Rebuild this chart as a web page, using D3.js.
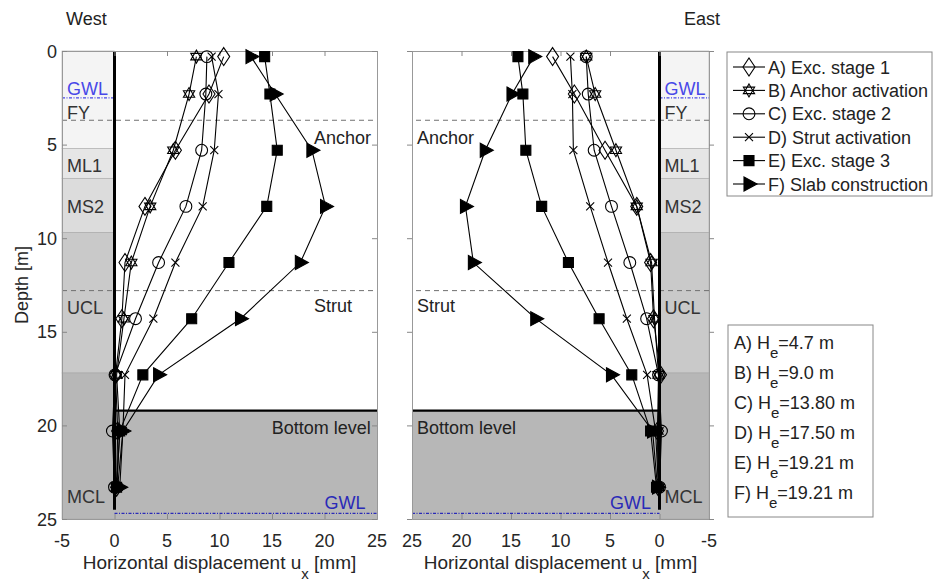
<!DOCTYPE html>
<html>
<head>
<meta charset="utf-8">
<script src="https://cdn.jsdelivr.net/npm/d3@7"></script>
<style>
  body { margin: 0; background: #fff; }
  text { font-family: "Liberation Sans", Arial, sans-serif; }
</style>
</head>
<body>
<div id="graph"></div>
<script>
var width = 937
var height = 586
var fs = 18

// depths of the output points [m]
var depths = [0.3, 2.3, 5.3, 8.3, 11.3, 14.3, 17.3, 20.3, 23.3];

var stageNames = ["A) Exc. stage 1", "B) Anchor activation", "C) Exc. stage 2",
	"D) Strut activation", "E) Exc. stage 3", "F) Slab construction"];
var stageMarkers = ["diamond", "star", "circle", "cross", "square", "triangle"];
var stageDepths = ["4.7", "9.0", "13.80", "17.50", "19.21", "19.21"];

// horizontal displacement [mm], west wall
var westA = [10.4, 9.0, 5.8, 2.9, 1.0, 0.7, 0.1, 0.3, 0.2];
var westB = [7.8, 7.1, 5.6, 3.4, 1.6, 0.9, 0.2, 0.5, 0.2];
var westC = [8.8, 8.7, 8.3, 6.8, 4.2, 2.0, 0.05, -0.2, 0.0];
var westD = [9.25, 9.9, 9.5, 8.4, 5.8, 3.7, 1.0, 0.8, 0.3];
var westE = [14.3, 14.8, 15.5, 14.5, 10.9, 7.35, 2.7, 0.5, 0.2];
var westF = [13.0, 15.3, 18.8, 20.1, 17.7, 12.0, 4.2, 0.8, 0.5];

// horizontal displacement [mm], east wall
var eastA = [10.8, 8.6, 5.5, 2.3, 0.9, 0.6, -0.1, 0.2, 0.1];
var eastB = [7.4, 6.5, 4.4, 2.3, 0.8, 0.5, 0.1, 0.2, 0.1];
var eastC = [7.4, 7.2, 6.6, 4.85, 3.0, 1.3, 0.1, -0.2, 0.0];
var eastD = [9.0, 8.8, 8.7, 7.0, 5.2, 3.3, 1.25, 0.4, 0.1];
var eastE = [14.3, 13.8, 13.5, 11.9, 9.2, 6.1, 2.8, 0.9, 0.3];
var eastF = [12.7, 14.9, 17.6, 19.6, 18.8, 12.5, 4.85, 0.7, 0.2];

// soil layers
var layerNames = ["FY", "ML1", "MS2", "UCL", "MCL"];
var layerTops = [0, 5.2, 6.8, 9.7, 17.2];
var layerBottoms = [5.2, 6.8, 9.7, 17.2, 25];
var layerColors = ["#f4f4f4", "#e6e6e6", "#dcdcdc", "#c9c9c9", "#b7b7b7"];
var layerLabelDepths = [3.3, 6.1, 8.3, 13.7, 23.8];

var anchorDepth = 3.7;
var strutDepth = 12.8;
var bottomDepth = 19.21;
var gwlTop = 2.5;
var gwlBottom = 24.7;
var wallToe = 24.5;

var xTicks = [-5, 0, 5, 10, 15, 20, 25];
var yTicks = [0, 5, 10, 15, 20, 25];

var svg = d3.select("#graph")
	.append("svg")
	.attr("width", width)
	.attr("height", height);

var y = d3.scaleLinear().domain([0, 25]).range([51, 519]);

function markerPath(type) {
	switch (type) {
		case "diamond": return "M0,-9L6,0L0,9L-6,0Z";
		case "circle": return d3.symbol(d3.symbolCircle, 110)();
		case "square": return "M-5,-5H5V5H-5Z";
		case "triangle": return "M-5,-7L8,0L-5,7Z";
		case "cross": return "M-4,-4L4,4M-4,4L4,-4";
		case "star":
			var r = 6.5, pts1 = [], pts2 = [];
			for (var i = 0; i < 3; i++) {
				var a1 = -Math.PI / 2 + i * 2 * Math.PI / 3;
				var a2 = Math.PI / 2 + i * 2 * Math.PI / 3;
				pts1.push([r * Math.cos(a1), r * Math.sin(a1)]);
				pts2.push([r * Math.cos(a2), r * Math.sin(a2)]);
			}
			return "M" + pts1.join("L") + "Z" + "M" + pts2.join("L") + "Z";
	}
}

function drawMarker(g, type, cx, cy) {
	var filled = (type == "square" || type == "triangle");
	g.append("path")
		.attr("transform", "translate(" + cx + "," + cy + ")")
		.attr("d", markerPath(type))
		.attr("fill", filled ? "#000" : "none")
		.attr("stroke", "#000")
		.attr("stroke-width", 1.1);
}

function drawPanel(x, series, side) {
	var g = svg.append("g");
	var x0 = x(-5), x1 = x(25), w0 = x(0);
	var stripL = Math.min(x0, w0), stripR = Math.max(x0, w0);
	var excL = Math.min(w0, x1), excR = Math.max(w0, x1);

	// soil strip
	layerNames.forEach(function (name, i) {
		g.append("rect")
			.attr("x", stripL).attr("width", stripR - stripL)
			.attr("y", y(layerTops[i])).attr("height", y(layerBottoms[i]) - y(layerTops[i]))
			.attr("fill", layerColors[i])
			.attr("stroke", "#a8a8a8").attr("stroke-width", 0.6);
		g.append("text")
			.attr("x", stripL + 5)
			.attr("y", y(layerLabelDepths[i]) + 6.5)
			.attr("font-size", fs)
			.attr("fill", "#333")
			.text(name);
	});

	// excavated soil below bottom level
	g.append("rect")
		.attr("x", excL).attr("width", excR - excL)
		.attr("y", y(bottomDepth)).attr("height", y(25) - y(bottomDepth))
		.attr("fill", layerColors[4]);

	// groundwater levels
	g.append("line")
		.attr("x1", stripL).attr("x2", stripR)
		.attr("y1", y(gwlTop)).attr("y2", y(gwlTop))
		.attr("stroke", "#4848e8").attr("stroke-width", 1.2)
		.attr("stroke-dasharray", "3,1.5,1,1.5");
	g.append("text")
		.attr("x", stripL + 5).attr("y", y(gwlTop) - 3)
		.attr("font-size", fs).attr("fill", "#4848e8")
		.text("GWL");
	g.append("line")
		.attr("x1", excL).attr("x2", excR)
		.attr("y1", y(gwlBottom)).attr("y2", y(gwlBottom))
		.attr("stroke", "#2a2ab8").attr("stroke-width", 1.2)
		.attr("stroke-dasharray", "3,1.5,1,1.5");
	g.append("text")
		.attr("x", side == "left" ? x(20) : x(5.0))
		.attr("y", y(gwlBottom) - 4)
		.attr("font-size", fs).attr("fill", "#2a2ab8")
		.text("GWL");

	// anchor and strut levels
	[anchorDepth, strutDepth].forEach(function (d) {
		g.append("line")
			.attr("x1", x0).attr("x2", x1)
			.attr("y1", y(d)).attr("y2", y(d))
			.attr("stroke", "#707070").attr("stroke-width", 1)
			.attr("stroke-dasharray", "5,4");
	});

	// bottom level
	g.append("line")
		.attr("x1", w0).attr("x2", x1)
		.attr("y1", y(bottomDepth)).attr("y2", y(bottomDepth))
		.attr("stroke", "#000").attr("stroke-width", 2.2);

	var tx = side == "left" ? x(19) : x(24.5);
	g.append("text").attr("x", tx).attr("y", y(4.6) + 6.5)
		.attr("font-size", fs).attr("fill", "#222").text("Anchor");
	g.append("text").attr("x", tx).attr("y", y(13.6) + 6.5)
		.attr("font-size", fs).attr("fill", "#222").text("Strut");
	g.append("text")
		.attr("x", side == "left" ? x(24.4) : x(24.5))
		.attr("text-anchor", side == "left" ? "end" : "start")
		.attr("y", y(20.1) + 6.5)
		.attr("font-size", fs).attr("fill", "#222").text("Bottom level");

	// wall
	g.append("line")
		.attr("x1", w0).attr("x2", w0)
		.attr("y1", y(0)).attr("y2", y(wallToe))
		.attr("stroke", "#000").attr("stroke-width", 3);

	// box and inward ticks
	var xAxB = d3.axisTop(x).tickValues(xTicks).tickSize(5).tickFormat("");
	var xAxT = d3.axisBottom(x).tickValues(xTicks).tickSize(5).tickFormat("");
	var yAxL = d3.axisRight(y).tickValues(yTicks).tickSize(5).tickFormat("");
	var yAxR = d3.axisLeft(y).tickValues(yTicks).tickSize(5).tickFormat("");
	[
		g.append("g").attr("transform", "translate(0," + y(25) + ")").call(xAxB),
		g.append("g").attr("transform", "translate(0," + y(0) + ")").call(xAxT),
		g.append("g").attr("transform", "translate(" + x0 + ",0)").call(yAxL),
		g.append("g").attr("transform", "translate(" + x1 + ",0)").call(yAxR)
	].forEach(function (a) {
		a.select(".domain").attr("stroke", "#999");
		a.selectAll(".tick line").attr("stroke", "#888");
	});

	// x tick labels
	g.selectAll(".xlab")
		.data(xTicks)
		.enter()
		.append("text")
		.attr("x", (d) => x(d))
		.attr("y", y(25) + 28)
		.attr("text-anchor", "middle")
		.attr("font-size", fs)
		.attr("fill", "#262626")
		.text((d) => d);

	var title = g.append("text")
		.attr("x", (x0 + x1) / 2)
		.attr("y", y(25) + 50)
		.attr("text-anchor", "middle")
		.attr("font-size", 19)
		.attr("fill", "#262626");
	title.append("tspan").text("Horizontal displacement u");
	title.append("tspan").attr("dy", 10).attr("font-size", 15).text("x");
	title.append("tspan").attr("dy", -10).text(" [mm]");

	// displacement profiles
	var line = d3.line()
		.x((d) => x(d[0]))
		.y((d) => y(d[1]));

	series.forEach(function (vals, i) {
		var pts = vals.map((v, j) => [v, depths[j]]);
		g.append("path")
			.attr("d", line(pts))
			.attr("fill", "none")
			.attr("stroke", "#000")
			.attr("stroke-width", 1.1);
		pts.forEach(function (p) {
			drawMarker(g, stageMarkers[i], x(p[0]), y(p[1]));
		});
	});

	return g;
}

var xWest = d3.scaleLinear().domain([-5, 25]).range([62, 377]);
var xEast = d3.scaleLinear().domain([25, -5]).range([412, 709]);

drawPanel(xWest, [westA, westB, westC, westD, westE, westF], "left");
drawPanel(xEast, [eastA, eastB, eastC, eastD, eastE, eastF], "right");

// y tick labels (west only)
svg.selectAll(".ylab")
	.data(yTicks)
	.enter()
	.append("text")
	.attr("x", 57)
	.attr("y", (d) => y(d) + 6.5)
	.attr("text-anchor", "end")
	.attr("font-size", fs)
	.attr("fill", "#262626")
	.text((d) => d);

svg.append("text")
	.attr("transform", "translate(28," + y(12.5) + ") rotate(-90)")
	.attr("text-anchor", "middle")
	.attr("font-size", fs)
	.attr("fill", "#262626")
	.text("Depth [m]");

svg.append("text").attr("x", 66).attr("y", 25)
	.attr("font-size", fs).attr("fill", "#222").text("West");
svg.append("text").attr("x", 720).attr("y", 25).attr("text-anchor", "end")
	.attr("font-size", fs).attr("fill", "#222").text("East");

// legend of stages
var legend = svg.append("g");
legend.append("rect")
	.attr("x", 727).attr("y", 52)
	.attr("width", 205).attr("height", 144)
	.attr("fill", "#fff")
	.attr("stroke", "#888");

stageNames.forEach(function (name, i) {
	var cy = 67 + i * 23.4;
	legend.append("line")
		.attr("x1", 733).attr("x2", 765)
		.attr("y1", cy).attr("y2", cy)
		.attr("stroke", "#000").attr("stroke-width", 1.1);
	drawMarker(legend, stageMarkers[i], 749, cy);
	legend.append("text")
		.attr("x", 768).attr("y", cy + 6.5)
		.attr("font-size", fs).attr("fill", "#222")
		.text(name);
});

// legend of excavation depths
var legend2 = svg.append("g");
legend2.append("rect")
	.attr("x", 728).attr("y", 325)
	.attr("width", 145).attr("height", 192)
	.attr("fill", "#fff")
	.attr("stroke", "#888");

stageDepths.forEach(function (h, i) {
	var cy = 342 + i * 30;
	var t = legend2.append("text")
		.attr("x", 734).attr("y", cy + 6.5)
		.attr("font-size", fs).attr("fill", "#222");
	t.append("tspan").text(stageNames[i].slice(0, 2) + " H");
	t.append("tspan").attr("dy", 9).attr("font-size", 15).text("e");
	t.append("tspan").attr("dy", -9).text("=" + h + " m");
});
</script>
</body>
</html>
